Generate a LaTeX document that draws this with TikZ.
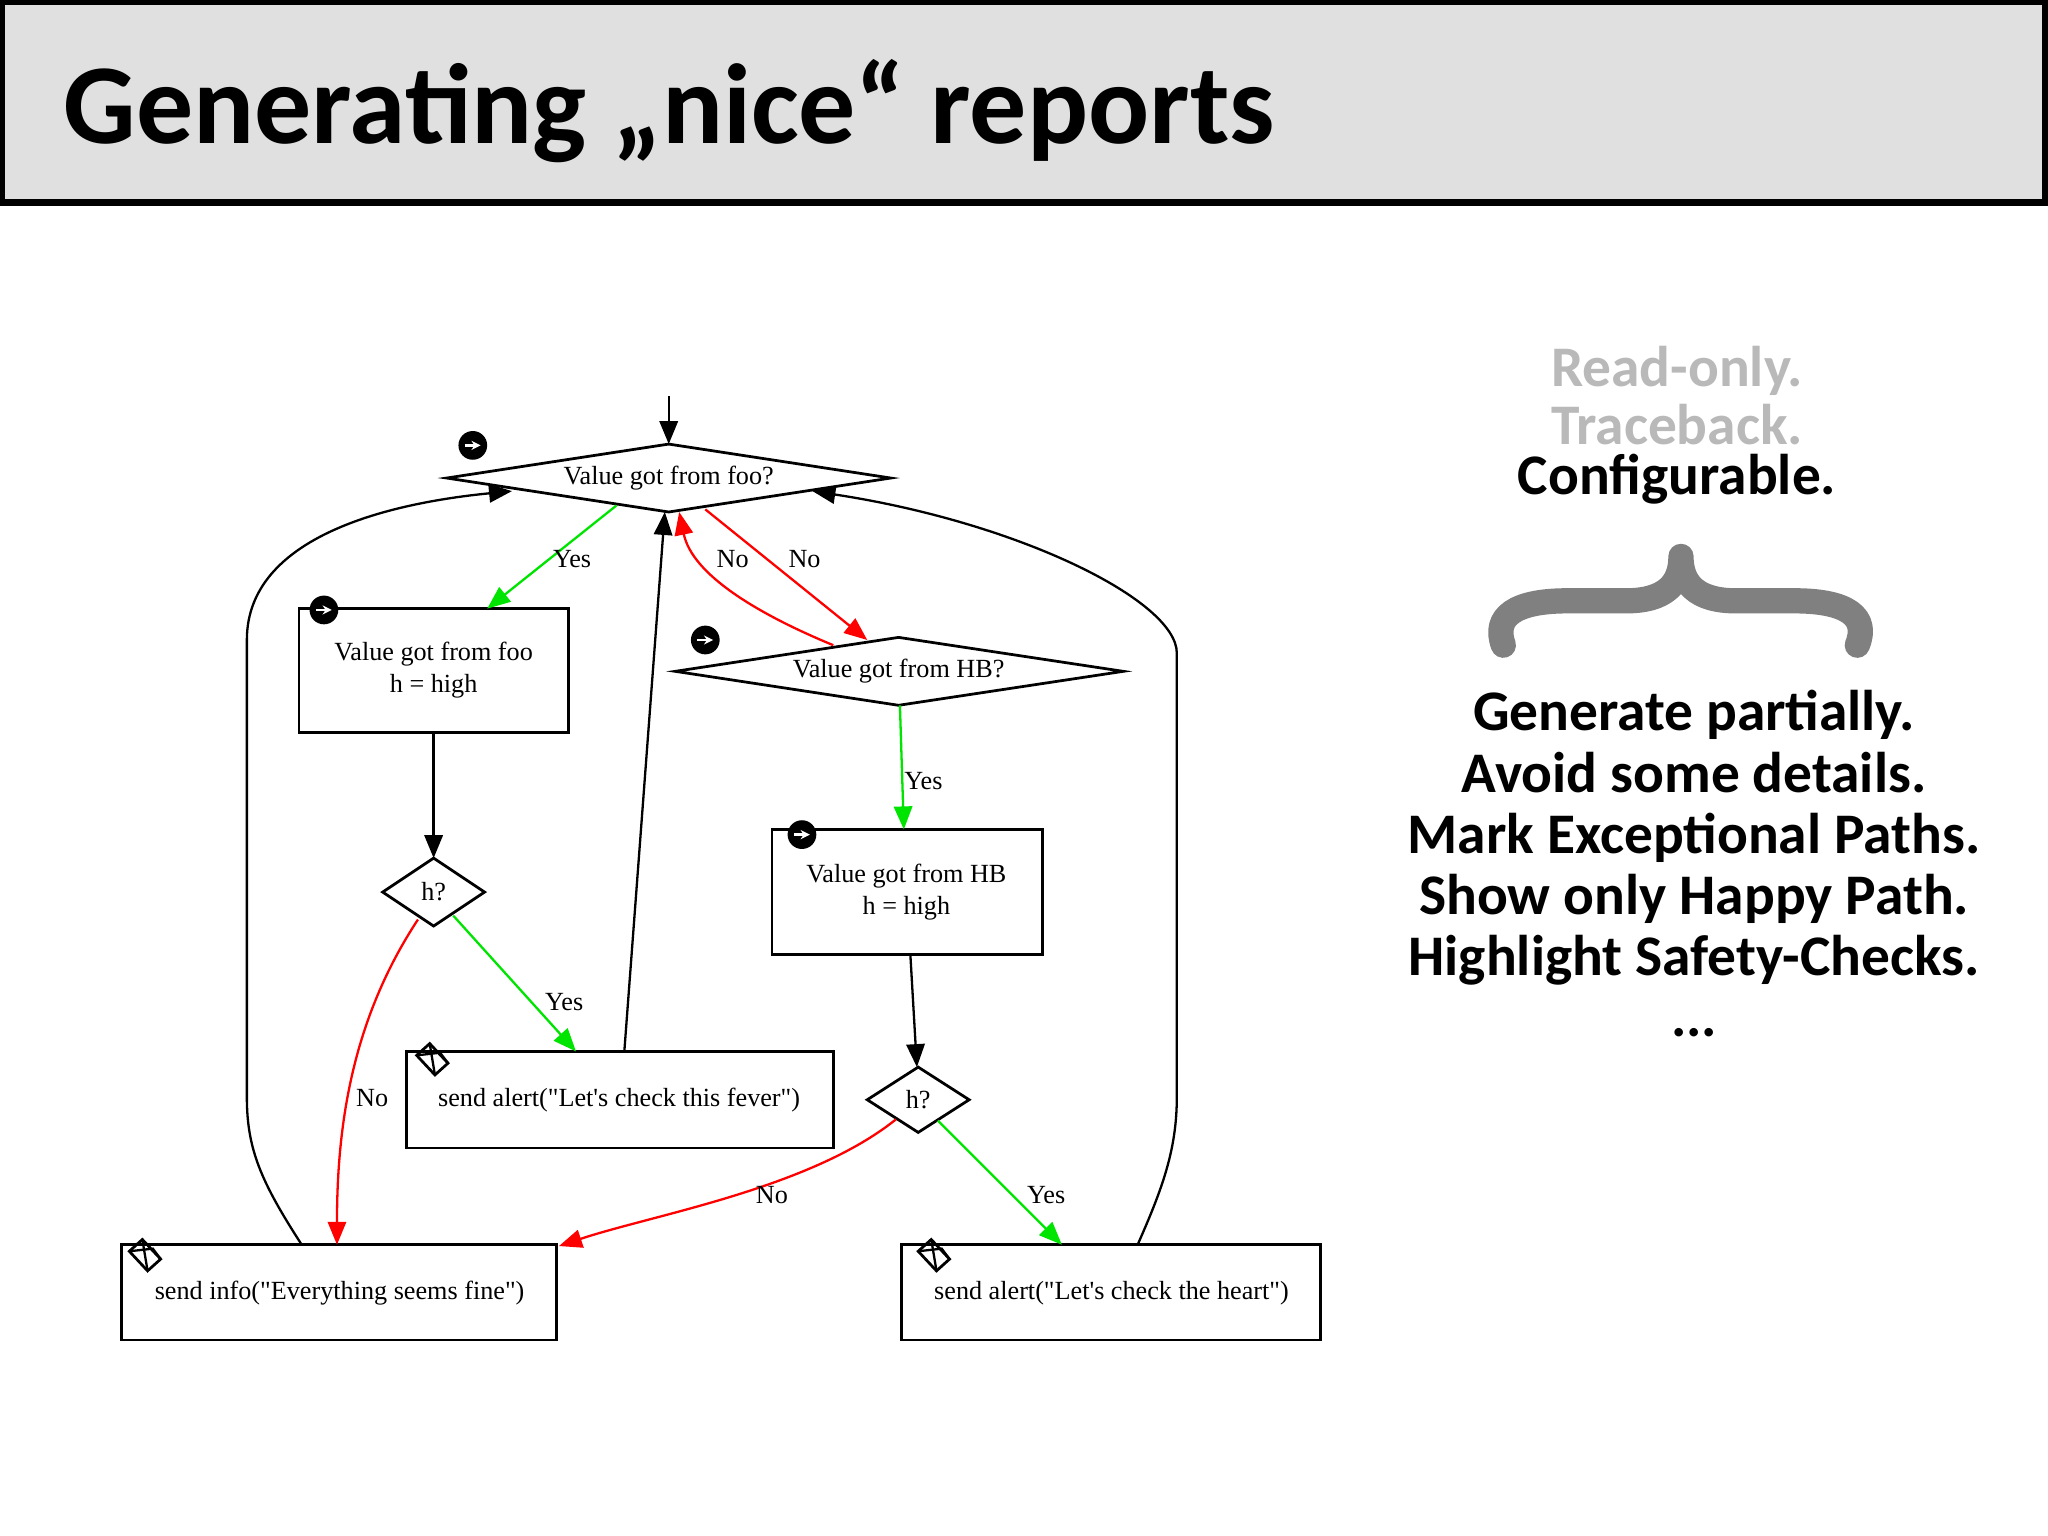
\documentclass[tikz,border=0pt]{standalone}
\usepackage{fontspec}
\setmainfont{Liberation Serif}
\newfontfamily\slide{Carlito}
\usetikzlibrary{arrows.meta}
\newcommand{\dq}{\textquotedbl}
\newcommand{\sq}{\textquotesingle}
\begin{document}
\begin{tikzpicture}[x=0.01cm,y=-0.01cm,
  lbl/.style={font=\fontsize{5.7}{6.8}\selectfont,align=center},
  edge/.style={line width=0.5pt,-{Triangle[length=5pt,width=4pt]}},
  gr/.style={edge,color=green!90!black},
  rd/.style={edge,color=red},
  bl/.style={edge,color=black},
  el/.style={font=\fontsize{5.7}{6.8}\selectfont,inner sep=1pt},
  big/.style={font=\slide\bfseries\fontsize{12.5}{13.3}\selectfont,inner sep=0pt}]
\useasboundingbox (0,0) rectangle (1568,1176);
\fill[white] (0,0) rectangle (1568,1176);
% title band
\draw[fill={rgb,255:red,224;green,224;blue,224},line width=1.5pt] (1,1) rectangle (1566,155);
\node[anchor=base west,font=\slide\bfseries\fontsize{24.8}{28}\selectfont,inner sep=0pt] (title) at (48,110) {Generating „nice“ reports};
% diamonds
\draw[line width=0.6pt] (342,366) -- (512,340) -- (682,366) -- (512,392) -- cycle;
\node[lbl] (foo) at (512,366) {Value got from foo?};
\draw[line width=0.6pt] (517,514) -- (688,488) -- (860,514) -- (688,540) -- cycle;
\node[lbl] (hb) at (688,514) {Value got from HB?};
\draw[line width=0.6pt] (293,683) -- (332,657) -- (371,683) -- (332,709) -- cycle;
\node[lbl] (h1) at (332,683) {h?};
\draw[line width=0.6pt] (664,842) -- (703,817) -- (742,842) -- (703,867) -- cycle;
\node[lbl] (h2) at (703,842) {h?};
% boxes
\draw[line width=0.6pt] (229,466) rectangle (435,561);
\node[lbl] (b1) at (332,513) {Value got from foo\\h = high};
\draw[line width=0.6pt] (591,635) rectangle (798,731);
\node[lbl] (b2) at (694,683) {Value got from HB\\h = high};
\draw[line width=0.6pt] (311,805) rectangle (638,879);
\node[lbl] (fever) at (474,842) {send alert(\dq Let\sq s check this fever\dq)};
\draw[line width=0.6pt] (93,953) rectangle (426,1026);
\node[lbl] (info) at (260,990) {send info(\dq Everything seems fine\dq)};
\draw[line width=0.6pt] (690,953) rectangle (1011,1026);
\node[lbl] (heart) at (851,990) {send alert(\dq Let\sq s check the heart\dq)};
% circles
\foreach \x/\y in {362/341,248/467,540/490,614/639}{
  \fill (\x,\y) circle (11);
  \draw[white,line width=0.5pt,-{Stealth[length=2pt,width=2pt]}] (\x-6,\y) -- (\x+6,\y);
}
% envelopes
\foreach \x/\y in {331/811,111/961,715/961}{
  \draw[line width=0.6pt] (\x-12,\y-3) -- (\x-2,\y-12) -- (\x+12,\y+3) -- (\x+2,\y+12) -- cycle;
  \draw[line width=0.5pt] (\x-12,\y-3) -- (\x+6,\y-5) -- (\x+12,\y+3);
  \draw[line width=0.5pt] (\x-2,\y-12) -- (\x+2,\y+12);
}
% edges
\coordinate (top) at (512,303);
\draw[bl] (top) -- (512,340);
\draw[gr] (472,387) -- (373,466);
\node[el] at (438,428) {Yes};
\draw[rd] (540,390) -- (664,490);
\node[el] at (616,428) {No};
\draw[rd] (638,494) .. controls (580,470) and (530,440) .. (520,392);
\node[el] at (561,428) {No};
\draw[gr] (689,540) -- (692,635);
\node[el] at (707,598) {Yes};
\draw[bl] (332,561) -- (332,657);
\draw[gr] (347,701) -- (441,805);
\node[el] at (432,767) {Yes};
\draw[rd] (320,704) .. controls (270,780) and (258,860) .. (258,953);
\node[el] at (285,841) {No};
\draw[bl] (478,805) -- (509,392);
\draw[bl] (697,731) -- (702,817);
\draw[gr] (718,858) -- (813,953);
\node[el] at (801,915) {Yes};
\draw[rd] (686,857) .. controls (620,910) and (500,930) .. (428,954);
\node[el] at (591,915) {No};
\draw[bl] (231,953) .. controls (200,905) and (189,880) .. (189,840) -- (189,490) .. controls (189,410) and (300,385) .. (392,376);
\draw[bl] (871,953) .. controls (890,910) and (901,880) .. (901,840) -- (901,500) .. controls (901,460) and (780,400) .. (622,376);
% right text
\node[big,text={rgb,255:red,185;green,185;blue,185}] (t1) at (1284,284) {Read-only.};
\node[big,text={rgb,255:red,185;green,185;blue,185}] (t2) at (1284,325) {Traceback.};
\node[big] (t3) at (1284,367) {Configurable.};
\draw[line width=5.5pt,color={rgb,255:red,128;green,128;blue,128},line cap=round,line join=round]
 (1151,494) .. controls (1143,472) and (1160,460) .. (1200,460) -- (1245,460) .. controls (1275,460) and (1287,447) .. (1287,426)
 .. controls (1287,447) and (1299,460) .. (1329,460) -- (1374,460) .. controls (1414,460) and (1431,472) .. (1422,494);
\node[big,align=center,anchor=north] (list) at (1297,528) {Generate partially.\\Avoid some details.\\Mark Exceptional Paths.\\Show only Happy Path.\\Highlight Safety-Checks.\\...};
\end{tikzpicture}
\end{document}
